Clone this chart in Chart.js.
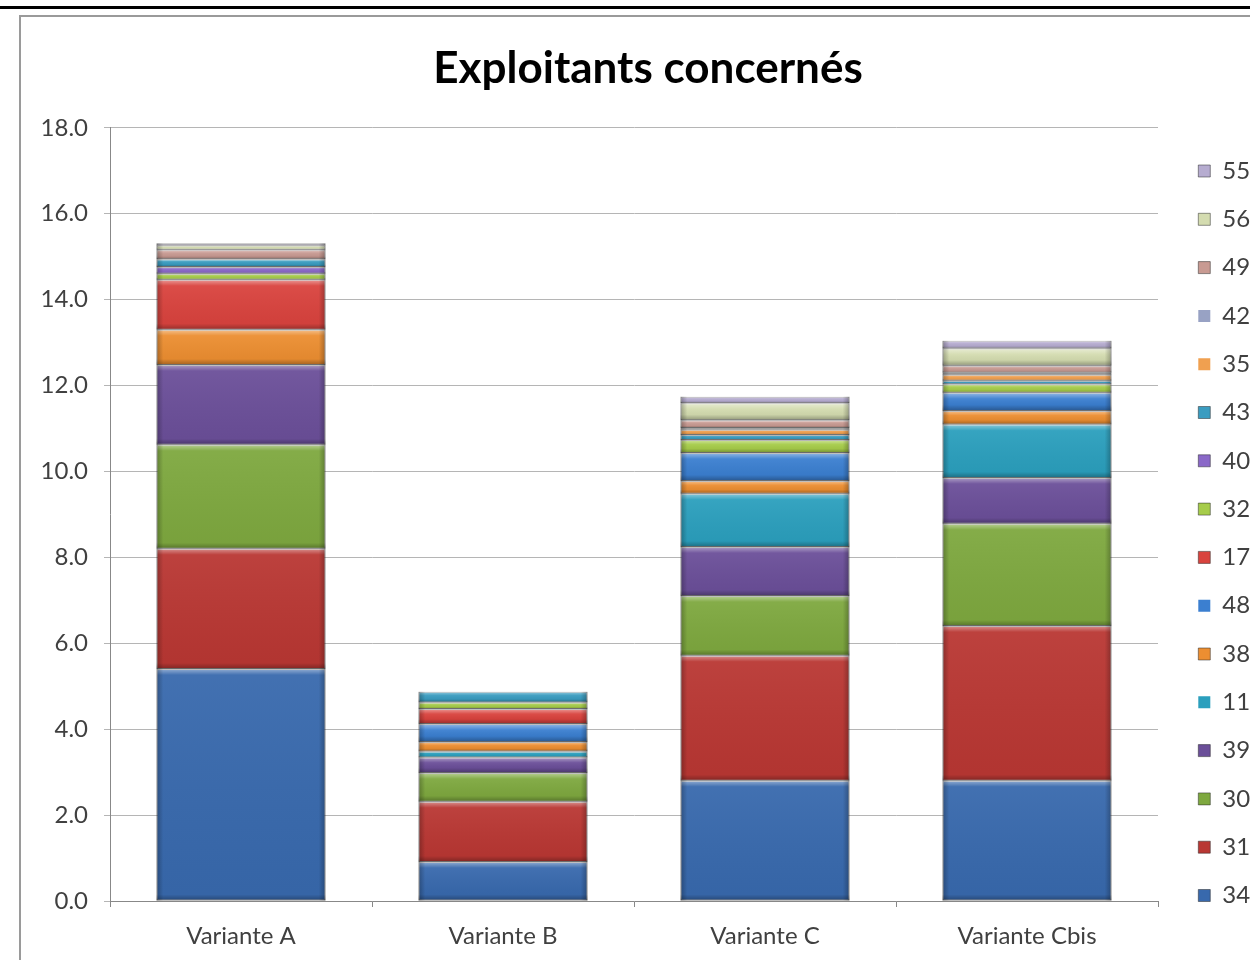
<!DOCTYPE html>
<html>
<head>
<meta charset="utf-8">
<title>Exploitants concernés</title>
<script src="https://cdn.jsdelivr.net/npm/chart.js@4.4.1/dist/chart.umd.min.js"></script>
<style>
  html, body { margin: 0; padding: 0; background: #fff; overflow: hidden; width: 1250px; height: 960px; }
  #topline { position: absolute; left: 0; top: 6px; width: 1250px; height: 3px; background: #000; }
  #frame { position: absolute; left: 19px; top: 15px; width: 1300px; height: 1000px; border: 2px solid #9a9a9a; box-sizing: border-box; }
  #chart { position: absolute; left: 21px; top: 17px; }
</style>
</head>
<body>
<div id="topline"></div>
<div id="frame"></div>
<canvas id="chart" width="1254" height="943"></canvas>
<script>
// categories and series (bottom of the stack first)
const categories = ['Variante A', 'Variante B', 'Variante C', 'Variante Cbis'];
const seriesNames = ['34', '31', '30', '39', '11', '38', '48', '17', '32', '40', '43', '35', '42', '49', '56', '55'];

// values per series: [A, B, C, Cbis]
const v34 = [5.40, 0.91, 2.80, 2.80];
const v31 = [2.80, 1.40, 2.91, 3.60];
const v30 = [2.42, 0.67, 1.39, 2.38];
const v39 = [1.86, 0.36, 1.14, 1.07];
const v11 = [0, 0.14, 1.24, 1.24];
const v38 = [0.82, 0.22, 0.30, 0.32];
const v48 = [0, 0.42, 0.65, 0.42];
const v17 = [1.16, 0.35, 0, 0];
const v32 = [0.14, 0.15, 0.30, 0.20];
const v40 = [0.16, 0, 0, 0];
const v43 = [0.18, 0.25, 0.12, 0.08];
const v35 = [0, 0, 0.12, 0.14];
const v42 = [0, 0, 0.04, 0.05];
const v49 = [0.22, 0, 0.18, 0.16];
const v56 = [0.10, 0, 0.40, 0.40];
const v55 = [0.05, 0, 0.15, 0.18];

const seriesValues = [v34, v31, v30, v39, v11, v38, v48, v17, v32, v40, v43, v35, v42, v49, v56, v55];

const yTicks = [0, 2, 4, 6, 8, 10, 12, 14, 16, 18];

const colors = ['#3869ad', '#b93733', '#7ea83f', '#6b4f99', '#2b9fbd', '#ec8e31', '#3b7fd0', '#d9433e',
                '#a6cc4a', '#8a68c8', '#3a9cc0', '#f0a050', '#98a2c4', '#c89a92', '#d4dcb0', '#b6acd0'];

const FONT = 'Lato, "Open Sans", sans-serif';

// Excel-like bevel on each bar segment
const bevel = {
  id: 'bevel',
  afterDatasetsDraw(chart) {
    const ctx = chart.ctx;
    chart.data.datasets.forEach((ds, i) => {
      chart.getDatasetMeta(i).data.forEach(bar => {
        const top = Math.min(bar.y, bar.base), bot = Math.max(bar.y, bar.base);
        const h = bot - top;
        if (h < 1) return;
        const l = bar.x - bar.width / 2, w = bar.width;
        ctx.save();
        const e = Math.min(6, h / 3) / h;
        let g = ctx.createLinearGradient(0, top, 0, bot);
        g.addColorStop(0, 'rgba(255,255,255,0.45)');
        g.addColorStop(e, 'rgba(255,255,255,0.05)');
        g.addColorStop(1 - e, 'rgba(0,0,0,0.04)');
        g.addColorStop(1, 'rgba(0,0,0,0.32)');
        ctx.fillStyle = g;
        ctx.fillRect(l, top, w, h);
        g = ctx.createLinearGradient(l, 0, l + w, 0);
        g.addColorStop(0, 'rgba(0,0,0,0.28)');
        g.addColorStop(0.04, 'rgba(0,0,0,0)');
        g.addColorStop(0.96, 'rgba(0,0,0,0)');
        g.addColorStop(1, 'rgba(0,0,0,0.28)');
        ctx.fillStyle = g;
        ctx.fillRect(l, top, w, h);
        ctx.restore();
      });
    });
  }
};

// keep the legend at a fixed width and put it where the original has it
const legendPlace = {
  id: 'legendPlace',
  afterInit(chart) {
    const lg = chart.legend;
    const fit = lg.fit.bind(lg);
    lg.fit = function () { fit(); this.width = 117; };
  },
  afterLayout(chart) {
    const lg = chart.legend;
    const pad = lg.options.labels.padding;
    lg.left = chart.chartArea.right + 16;
    lg.top = 142 - pad;
  }
};

const datasets = seriesNames.map((name, i) => ({
  label: name,
  data: seriesValues[i],
  backgroundColor: colors[i],
  borderColor: 'rgba(40,40,40,0.5)',
  borderWidth: c => (c.raw ? 1 : 0),
  borderSkipped: false
}));

new Chart(document.getElementById('chart'), {
  type: 'bar',
  data: { labels: categories, datasets: datasets },
  options: {
    responsive: false,
    animation: false,
    layout: { padding: 0 },
    datasets: { bar: { barPercentage: 0.645, categoryPercentage: 1 } },
    plugins: {
      title: {
        display: true,
        text: 'Exploitants concernés',
        color: '#000',
        font: { family: FONT, size: 44, weight: 'bold' },
        padding: { top: 25, bottom: 33 }
      },
      legend: {
        position: 'right',
        align: 'start',
        reverse: true,
        labels: {
          color: '#404040',
          font: { family: FONT, size: 24 },
          boxWidth: 12,
          boxHeight: 12,
          padding: 24.3
        }
      },
      tooltip: { enabled: false }
    },
    scales: {
      x: {
        stacked: true,
        grid: { display: true, drawOnChartArea: false, drawTicks: true, tickLength: 6, offset: true, color: '#888' },
        border: { color: '#888' },
        ticks: { color: '#404040', font: { family: FONT, size: 24 }, padding: 15 },
        afterFit(s) { s.height = 59; }
      },
      y: {
        stacked: true,
        min: 0,
        max: 18,
        afterBuildTicks(s) { s.ticks = yTicks.map(v => ({ value: v })); },
        grid: { color: '#b5b5b5', tickLength: 6 },
        border: { color: '#888' },
        ticks: { color: '#404040', font: { family: FONT, size: 24 }, padding: 16, callback: v => Number(v).toFixed(1) },
        afterFit(s) { s.width = 89; }
      }
    }
  },
  plugins: [bevel, legendPlace]
});
</script>
</body>
</html>
